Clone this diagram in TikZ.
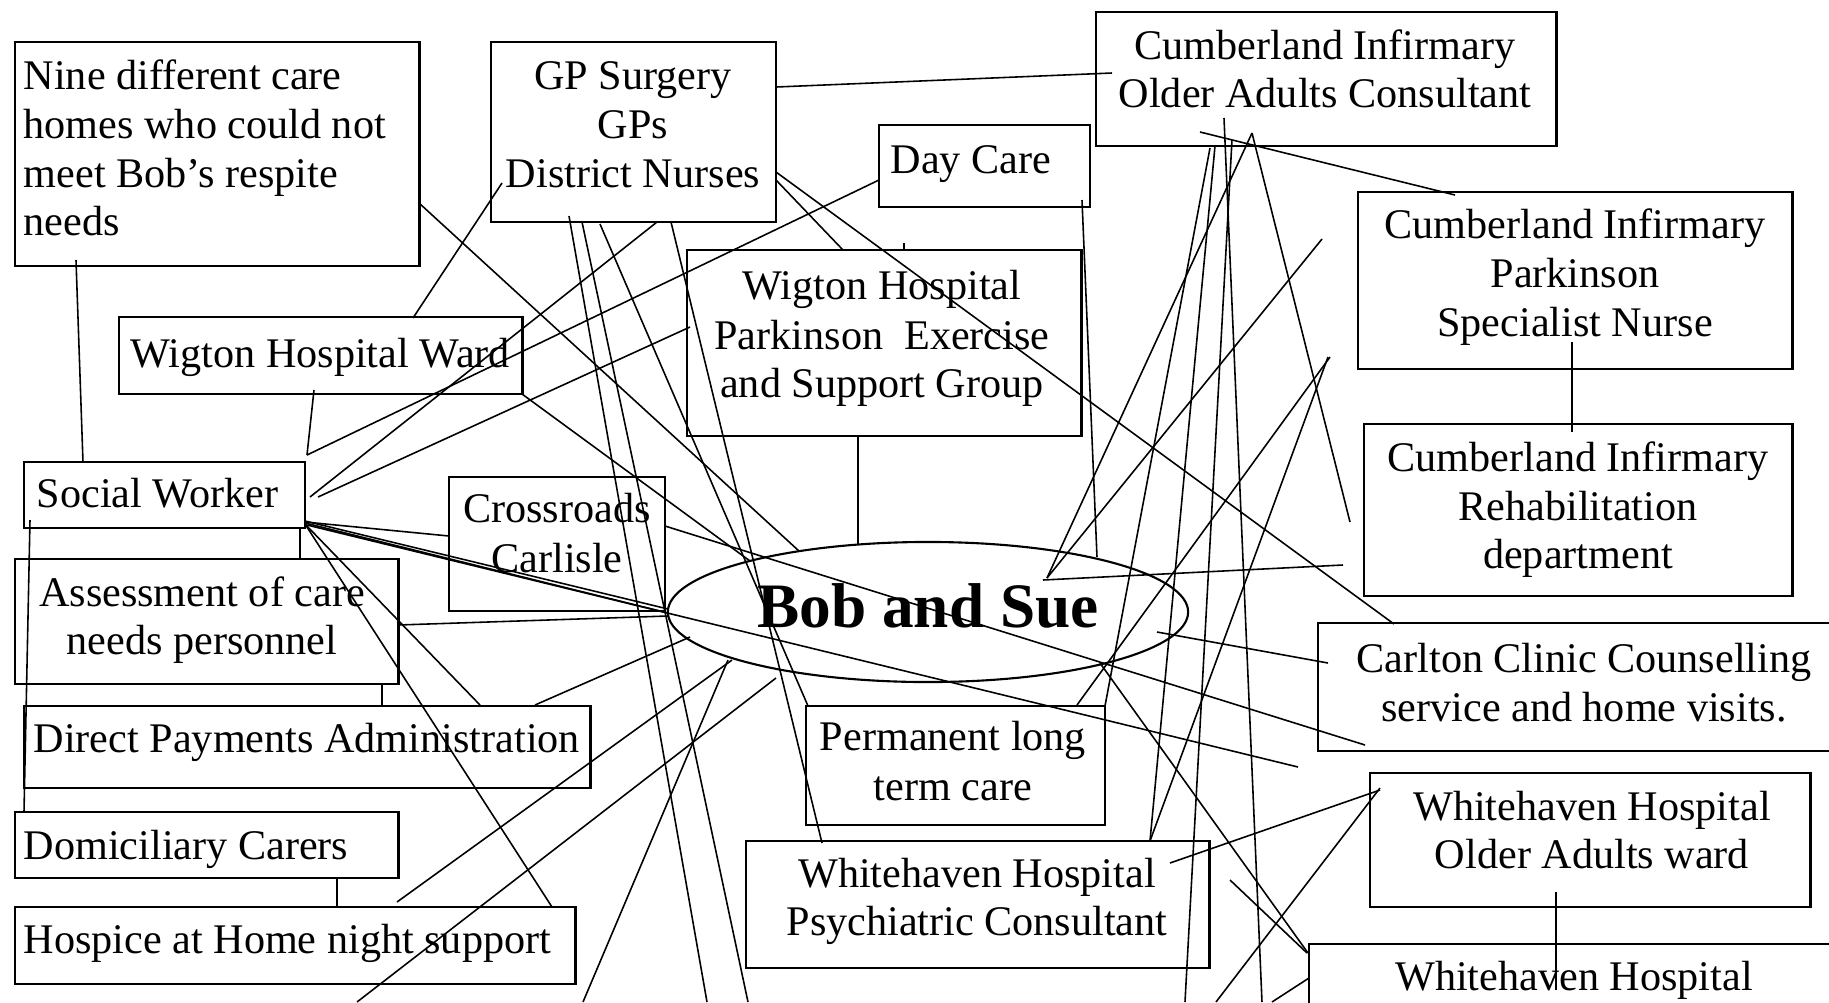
\documentclass[tikz,border=0pt]{standalone}
\usepackage{fontspec}
\setmainfont{Liberation Serif}
\usetikzlibrary{shapes.geometric}
\newcommand\mytl[4]{\node[txt,anchor=#1] (#2) at (#3) {#4};}
\begin{document}
\begin{tikzpicture}[x=0.01cm,y=-0.01cm,
  box/.style={draw,line width=0.75pt,inner sep=0pt,outer sep=0pt,anchor=north west},
  conn/.style={line width=0.45pt},
  txt/.style={font=\fontsize{12pt}{14pt}\selectfont,inner sep=0pt}]
\useasboundingbox[fill=white] (0,0) rectangle (1829,1002);

% boxes
\node[box,minimum width=4.04cm,minimum height=2.24cm] (nine) at (15,42) {};
\node[box,minimum width=2.85cm,minimum height=1.80cm] (gp) at (491,42) {};
\node[box,minimum width=4.60cm,minimum height=1.34cm] (cio) at (1096,12) {};
\node[box,minimum width=2.11cm,minimum height=0.82cm] (day) at (879,125) {};
\node[box,minimum width=3.94cm,minimum height=1.86cm] (wp) at (687,250) {};
\node[box,minimum width=4.34cm,minimum height=1.77cm] (cip) at (1358,192) {};
\node[box,minimum width=4.28cm,minimum height=1.72cm] (cir) at (1364,424) {};
\node[box,minimum width=4.03cm,minimum height=0.77cm] (ward) at (119,317) {};
\node[box,minimum width=2.81cm,minimum height=0.66cm] (sw) at (24,462) {};
\node[box,minimum width=2.16cm,minimum height=1.34cm] (cross) at (449,477) {};
\node[box,minimum width=3.83cm,minimum height=1.25cm] (ass) at (15,559) {};
\node[box,minimum width=5.66cm,minimum height=0.82cm] (dp) at (24,706) {};
\node[box,minimum width=3.83cm,minimum height=0.66cm] (dom) at (15,812) {};
\node[box,minimum width=5.60cm,minimum height=0.77cm] (hos) at (15,907) {};
\node[box,minimum width=2.99cm,minimum height=1.19cm] (perm) at (806,706) {};
\node[box,minimum width=4.63cm,minimum height=1.27cm] (whp) at (746,841) {};
\node[box,minimum width=5.30cm,minimum height=1.28cm] (carl) at (1318,623) {};
\node[box,minimum width=4.40cm,minimum height=1.34cm] (who) at (1370,773) {};
\node[box,minimum width=5.40cm,minimum height=0.90cm] (whb) at (1309,944) {};
\node[draw,ellipse,line width=0.6pt,minimum width=5.2cm,minimum height=1.4cm,inner sep=0pt] (bob) at (928,612) {};

% connectors
\foreach \i/\ax/\ay/\bx/\by in {
 1/76/260/83/462, 2/419/203/799/551, 3/502/183/413/318, 4/314/390/307/455,
 5/657/222/310/497, 6/879/180/307/455, 7/690/327/318/497, 8/300/528/300/559,
 9/30/520/24/812, 10/382/684/382/706, 11/337/878/337/907, 12/305/522/449/536,
 13/305/521/668/609, 14/305/523/668/613, 15/307/525/1298/767, 16/665/526/1365/745,
 17/305/524/480/705, 18/305/524/552/907, 19/398/625/668/616, 20/535/705/690/637,
 21/397/902/732/660, 22/357/1002/776/678, 23/583/1002/728/660, 24/569/216/707/1002,
 25/582/222/748/1002, 26/600/224/808/706, 27/671/222/822/843, 28/776/87/1112/73,
 29/1200/132/1455/195, 30/776/172/1394/624, 31/776/180/843/250, 32/904/243/904/250,
 33/1082/200/1097/557, 34/858/436/858/545, 35/1224/118/1262/1002, 36/1252/133/1350/522,
 37/1252/133/1047/578, 38/1322/239/1047/578, 39/1330/357/1077/705, 40/1328/357/1150/841,
 41/1043/580/1343/565, 42/1157/632/1328/663, 43/1210/148/1105/706, 44/1380/790/1170/863,
 45/1380/788/1216/1002, 46/1100/663/1308/953, 47/1230/880/1307/953, 48/1232/140/1185/1002,
 49/1572/342/1572/432, 50/1556/892/1556/990, 51/522/394/750/561, 52/1272/1002/1309/978,
 53/1215/146/1150/841}
 { \coordinate (a\i) at (\ax,\ay); \coordinate (b\i) at (\bx,\by);
   \draw[conn] (a\i) -- (b\i); }

% texts
\mytl{base west}{nine1}{23,89}{Nine different care}
\mytl{base west}{nine2}{23,138}{homes who could not}
\mytl{base west}{nine3}{23,187}{meet Bob’s respite}
\mytl{base west}{nine4}{23,235}{needs}
\mytl{base}{gp1}{633,89}{GP Surgery}
\mytl{base}{gp2}{633,138}{GPs}
\mytl{base}{gp3}{633,187}{District Nurses}
\mytl{base}{cio1}{1325,59}{Cumberland Infirmary}
\mytl{base}{cio2}{1325,107}{Older Adults Consultant}
\mytl{base west}{day1}{890,173}{Day Care}
\mytl{base}{wp1}{882,299}{Wigton Hospital}
\mytl{base}{wp2}{882,349}{Parkinson\ \ Exercise}
\mytl{base}{wp3}{882,397}{and Support Group}
\mytl{base}{cip1}{1575,238}{Cumberland Infirmary}
\mytl{base}{cip2}{1575,287}{Parkinson}
\mytl{base}{cip3}{1575,336}{Specialist Nurse}
\mytl{base}{cir1}{1578,471}{Cumberland Infirmary}
\mytl{base}{cir2}{1578,520}{Rehabilitation}
\mytl{base}{cir3}{1578,568}{department}
\mytl{base west}{ward1}{130,367}{Wigton Hospital Ward}
\mytl{base west}{sw1}{36,507}{Social Worker}
\mytl{base}{cross1}{557,522}{Crossroads}
\mytl{base}{cross2}{557,572}{Carlisle}
\mytl{base}{ass1}{202,606}{Assessment of care}
\mytl{base}{ass2}{202,654}{needs personnel}
\mytl{base west}{dp1}{33,752}{Direct Payments Administration}
\mytl{base west}{dom1}{23,859}{Domiciliary Carers}
\mytl{base west}{hos1}{23,953}{Hospice at Home night support}
\mytl{base}{perm1}{953,750}{Permanent long}
\mytl{base}{perm2}{953,800}{term care}
\mytl{base}{whp1}{977,887}{Whitehaven Hospital}
\mytl{base}{whp2}{977,935}{Psychiatric Consultant}
\mytl{base}{carl1}{1584,672}{Carlton Clinic Counselling}
\mytl{base}{carl2}{1584,721}{service and home visits.}
\mytl{base}{who1}{1592,820}{Whitehaven Hospital}
\mytl{base}{who2}{1592,868}{Older Adults ward}
\mytl{base}{whb1}{1574,990}{Whitehaven Hospital}
\node[inner sep=0pt,anchor=base,font=\fontsize{18pt}{20pt}\selectfont\bfseries] (bobtxt) at (928,627) {Bob and Sue};
\end{tikzpicture}
\end{document}
